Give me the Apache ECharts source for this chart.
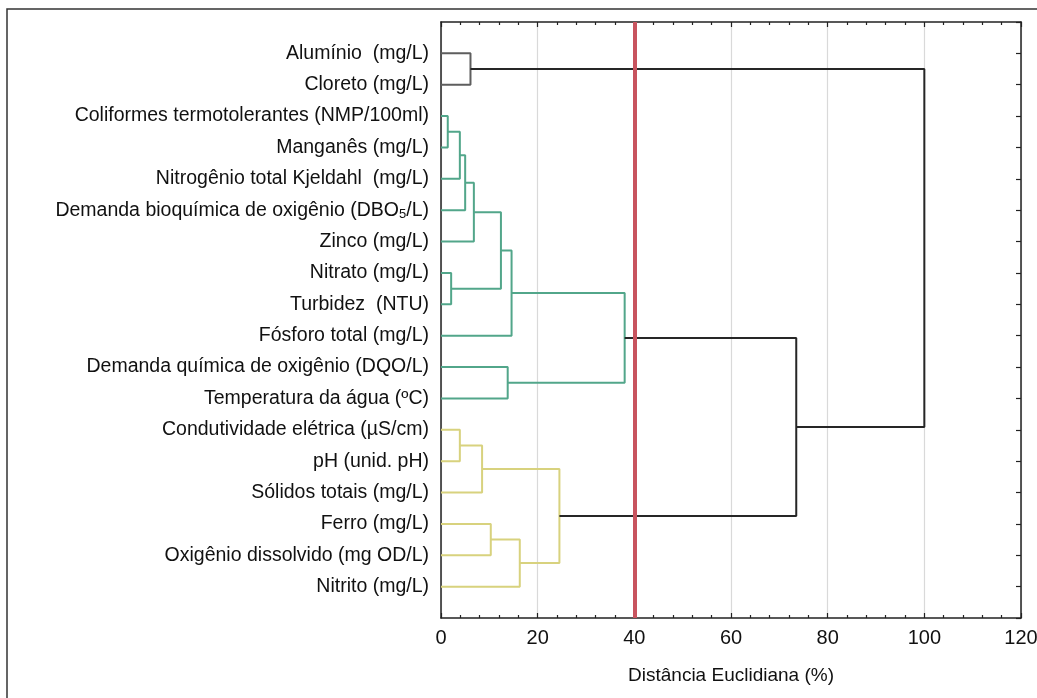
<!DOCTYPE html>
<html>
<head>
<meta charset="utf-8">
<script src="https://cdn.jsdelivr.net/npm/echarts@6/dist/echarts.min.js"></script>
<style>
html,body{margin:0;padding:0;background:#fff;}
#chart{width:1037px;height:698px;}
</style>
</head>
<body>
<div id="chart"></div>
<script>
// ---- data ----
const leafLabels = [
  'Alumínio  (mg/L)',
  'Cloreto (mg/L)',
  'Coliformes termotolerantes (NMP/100ml)',
  'Manganês (mg/L)',
  'Nitrogênio total Kjeldahl  (mg/L)',
  'Demanda bioquímica de oxigênio (DBO₅/L)',
  'Zinco (mg/L)',
  'Nitrato (mg/L)',
  'Turbidez  (NTU)',
  'Fósforo total (mg/L)',
  'Demanda química de oxigênio (DQO/L)',
  'Temperatura da água (ºC)',
  'Condutividade elétrica (µS/cm)',
  'pH (unid. pH)',
  'Sólidos totais (mg/L)',
  'Ferro (mg/L)',
  'Oxigênio dissolvido (mg OD/L)',
  'Nitrito (mg/L)'
];
// linkage: node ids 0..17 are leaves, 18+k is the cluster made by merge k
const mergeLeft   = [0, 2, 19, 20, 21, 7, 22, 24, 10, 25, 12, 28, 15, 30, 29, 27, 18];
const mergeRight  = [1, 3, 4, 5, 6, 8, 23, 9, 11, 26, 13, 14, 16, 17, 31, 32, 33];
const mergeHeight = [6.1, 1.4, 3.9, 5.0, 6.8, 2.1, 12.4, 14.6, 13.8, 38.0, 3.9, 8.5, 10.3, 16.3, 24.5, 73.5, 100];
const mergeGroup  = ['A','B','B','B','B','B','B','B','B','B','C','C','C','C','C','top','top'];
const cutDistance = [40];
const xTicks = [0, 20, 40, 60, 80, 100, 120];
const xAxisTitle = 'Distância Euclidiana (%)';

// ---- styles ----
const groupColor = { A: '#5e5e5e', B: '#52a68a', C: '#d8d27e', top: '#262626' };
const FONT = 'Liberation Sans, Arial, sans-serif';

// ---- build links ----
const nLeaf = leafLabels.length;
const nodeY = [], nodeH = [];
for (let i = 0; i < nLeaf; i++) { nodeY[i] = i + 1; nodeH[i] = 0; }
const series = [];
mergeLeft.forEach((a, k) => {
  const b = mergeRight[k], h = mergeHeight[k];
  const id = nLeaf + k;
  nodeY[id] = (nodeY[a] + nodeY[b]) / 2;
  nodeH[id] = h;
  series.push({
    type: 'line',
    symbol: 'none',
    silent: true,
    animation: false,
    z: 3,
    lineStyle: { color: groupColor[mergeGroup[k]], width: 2 },
    data: [[nodeH[a], nodeY[a]], [h, nodeY[a]], [h, nodeY[b]], [nodeH[b], nodeY[b]]]
  });
});
series.push({
  type: 'line',
  data: [],
  silent: true,
  animation: false,
  z: 5,
  markLine: {
    symbol: 'none',
    silent: true,
    animation: false,
    label: { show: false },
    lineStyle: { color: '#c8545f', width: 4, type: 'solid' },
    data: cutDistance.map(v => ({ xAxis: v }))
  }
});

function fmtLabel(v) {
  const s = leafLabels[v - 1];
  if (!s) return '';
  if (s.indexOf('₅') >= 0) {
    const p = s.split('₅');
    return '{m|' + p[0] + '}{sub|5}{m|' + p[1] + '}';
  }
  return '{m|' + s + '}';
}

const tickStyle = { color: '#222', width: 1.2 };
const axisLineStyle = { show: true, onZero: false, lineStyle: { color: '#222', width: 1.5 } };
const chart = echarts.init(document.getElementById('chart'), null, { renderer: 'canvas' });
chart.setOption({
  backgroundColor: '#ffffff',
  animation: false,
  textStyle: { fontFamily: FONT },
  grid: { left: 441, right: 16, top: 22, bottom: 80, containLabel: false, outerBoundsMode: 'none' },
  graphic: [{
    type: 'rect',
    shape: { x: 7, y: 9, width: 1200, height: 900 },
    style: { fill: 'none', stroke: '#333', lineWidth: 1.5 },
    silent: true
  }],
  xAxis: [{
    type: 'value', position: 'bottom',
    min: xTicks[0], max: xTicks[xTicks.length - 1], interval: xTicks[1] - xTicks[0],
    axisLine: axisLineStyle,
    axisTick: { show: true, inside: true, length: 5, lineStyle: tickStyle },
    minorTick: { show: true, splitNumber: 5, length: 3, lineStyle: tickStyle },
    splitLine: { show: true, lineStyle: { color: '#d9d9d9', width: 1.2 } },
    axisLabel: { color: '#111', fontSize: 20, fontFamily: FONT, margin: 10 },
    name: xAxisTitle, nameLocation: 'middle', nameGap: 48,
    nameTextStyle: { color: '#111', fontSize: 19, fontFamily: FONT }
  }, {
    type: 'value', position: 'top',
    min: xTicks[0], max: xTicks[xTicks.length - 1], interval: xTicks[1] - xTicks[0],
    axisLine: axisLineStyle,
    axisTick: { show: true, inside: true, length: 5, lineStyle: tickStyle },
    minorTick: { show: true, splitNumber: 5, length: 3, lineStyle: tickStyle },
    splitLine: { show: false },
    axisLabel: { show: false }
  }],
  yAxis: [{
    type: 'value', position: 'left', inverse: true,
    min: 0, max: nLeaf + 1, interval: 1,
    axisLine: axisLineStyle,
    axisTick: { show: false },
    splitLine: { show: false },
    axisLabel: {
      margin: 12,
      formatter: fmtLabel,
      rich: {
        m: { fontSize: 19.5, color: '#111', fontFamily: FONT, lineHeight: 22 },
        sub: { fontSize: 13, color: '#111', fontFamily: FONT, lineHeight: 13, verticalAlign: 'bottom' }
      }
    }
  }, {
    type: 'value', position: 'right', inverse: true,
    min: 0, max: nLeaf + 1, interval: 1,
    axisLine: axisLineStyle,
    axisTick: { show: true, inside: true, length: 5, lineStyle: tickStyle },
    splitLine: { show: false },
    axisLabel: { show: false }
  }],
  series: series
});
</script>
</body>
</html>
